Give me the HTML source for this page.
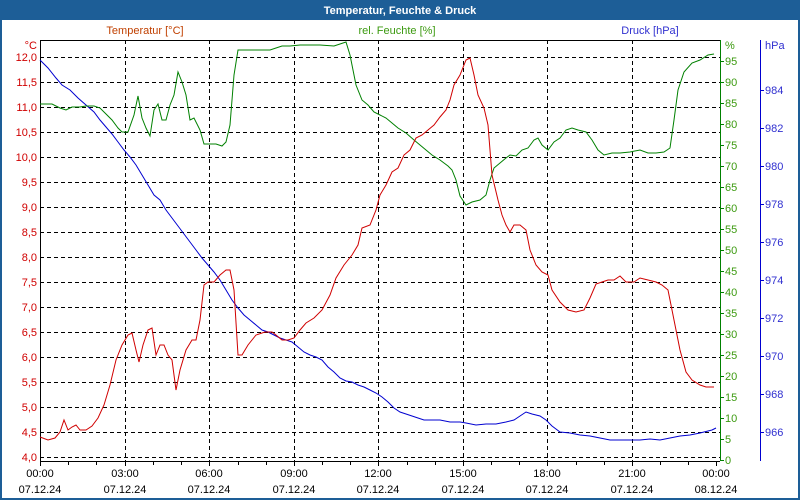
<!DOCTYPE html>
<html><head><meta charset="utf-8"><style>
html,body{margin:0;padding:0;background:#fff}
svg{display:block;font-family:"Liberation Sans",sans-serif;font-size:11px}
</style></head><body>
<svg width="800" height="500" viewBox="0 0 800 500">
<rect x="0" y="0" width="800" height="500" fill="#1d5e97"/>
<rect x="2" y="20" width="796" height="478" fill="#fff"/>
<text x="400" y="14" fill="#fff" font-weight="bold" text-anchor="middle">Temperatur, Feuchte &amp; Druck</text>
<g stroke="#000" stroke-dasharray="4,3" stroke-width="1">
<path d="M40 57.5H720M40 82.5H720M40 107.5H720M40 132.5H720M40 157.5H720M40 182.5H720M40 207.5H720M40 232.5H720M40 257.5H720M40 282.5H720M40 307.5H720M40 332.5H720M40 357.5H720M40 382.5H720M40 407.5H720M40 432.5H720M40 457.5H720"/>
<path d="M125.5 40V461M209.5 40V461M294.5 40V461M378.5 40V461M463.5 40V461M547.5 40V461M632.5 40V461"/>
</g>
<path d="M40.5 40.5H720M40.5 40V461.5H720" stroke="#000" fill="none"/>
<g stroke="#000">
<path id="tk" d="M40.5 461V466M68.5 461V465M96.5 461V465M125.5 461V466M153.5 461V465M181.5 461V465M209.5 461V466M238.5 461V465M266.5 461V465M294.5 461V466M322.5 461V465M350.5 461V465M378.5 461V466M407.5 461V465M435.5 461V465M463.5 461V466M491.5 461V465M519.5 461V465M547.5 461V466M576.5 461V465M604.5 461V465M632.5 461V466M660.5 461V465M688.5 461V465M716.5 461V466"/>
</g>
<path d="M720.5 40V461" stroke="#008000"/>
<g stroke="#008000">
<path d="M720 460.5h4M720 439.5h4M720 418.5h4M720 397.5h4M720 376.5h4M720 355.5h4M720 334.5h4M720 313.5h4M720 292.5h4M720 271.5h4M720 250.5h4M720 229.5h4M720 208.5h4M720 187.5h4M720 166.5h4M720 145.5h4M720 124.5h4M720 103.5h4M720 82.5h4M720 61.5h4"/>
</g>
<path d="M760.5 40V461" stroke="#0000d0"/>
<g stroke="#0000d0"><path d="M760 90.5h4M760 128.5h4M760 166.5h4M760 204.5h4M760 242.5h4M760 280.5h4M760 318.5h4M760 356.5h4M760 394.5h4M760 432.5h4"/></g>
<g fill="#d00000" text-anchor="end">
<text x="37" y="49">°C</text>
<text x="37" y="61">12,0</text><text x="37" y="86">11,5</text><text x="37" y="111">11,0</text><text x="37" y="136">10,5</text><text x="37" y="161">10,0</text><text x="37" y="186">9,5</text><text x="37" y="211">9,0</text><text x="37" y="236">8,5</text><text x="37" y="261">8,0</text><text x="37" y="286">7,5</text><text x="37" y="311">7,0</text><text x="37" y="336">6,5</text><text x="37" y="361">6,0</text><text x="37" y="386">5,5</text><text x="37" y="411">5,0</text><text x="37" y="436">4,5</text><text x="37" y="461">4,0</text>
</g>
<g fill="#3c9a10">
<text x="725" y="49">%</text>
<text x="725" y="65">95</text><text x="725" y="86">90</text><text x="725" y="107">85</text><text x="725" y="128">80</text><text x="725" y="149">75</text><text x="725" y="170">70</text><text x="725" y="191">65</text><text x="725" y="212">60</text><text x="725" y="233">55</text><text x="725" y="254">50</text><text x="725" y="275">45</text><text x="725" y="296">40</text><text x="725" y="317">35</text><text x="725" y="338">30</text><text x="725" y="359">25</text><text x="725" y="380">20</text><text x="725" y="401">15</text><text x="725" y="422">10</text><text x="725" y="443">5</text><text x="725" y="464">0</text>
</g>
<g fill="#3030d0">
<text x="765" y="49">hPa</text>
<text x="765" y="94">984</text><text x="765" y="132">982</text><text x="765" y="170">980</text><text x="765" y="208">978</text><text x="765" y="246">976</text><text x="765" y="284">974</text><text x="765" y="322">972</text><text x="765" y="360">970</text><text x="765" y="398">968</text><text x="765" y="436">966</text>
</g>
<text x="145" y="34" fill="#c04000" text-anchor="middle">Temperatur [°C]</text>
<text x="397" y="34" fill="#3c9a10" text-anchor="middle">rel. Feuchte [%]</text>
<text x="650" y="34" fill="#3030d0" text-anchor="middle">Druck [hPa]</text>
<g fill="#000" text-anchor="middle">
<text x="40" y="477">00:00</text><text x="125" y="477">03:00</text><text x="209" y="477">06:00</text><text x="294" y="477">09:00</text><text x="378" y="477">12:00</text><text x="463" y="477">15:00</text><text x="547" y="477">18:00</text><text x="632" y="477">21:00</text><text x="716" y="477">00:00</text>
<text x="40" y="493">07.12.24</text><text x="125" y="493">07.12.24</text><text x="209" y="493">07.12.24</text><text x="294" y="493">07.12.24</text><text x="378" y="493">07.12.24</text><text x="463" y="493">07.12.24</text><text x="547" y="493">07.12.24</text><text x="632" y="493">07.12.24</text><text x="716" y="493">08.12.24</text>
</g>
<polyline fill="none" stroke="#0000d0" stroke-width="1" points="40,60 48,68 56,78 62,85 70,90 78,98 86,105 94,112 100,120 106,127 112,134 118,142 124,150 130,157 136,165 142,175 148,185 154,195 160,200 166,210 172,218 178,226 184,234 190,242 196,250 202,258 208,265 214,272 220,280 226,290 232,300 238,308 244,315 250,320 256,325 262,330 268,332 274,335 280,338 286,340 292,342 298,347 304,352 310,355 316,357 322,360 328,367 334,372 340,378 346,381 352,382 358,385 364,387 370,390 376,393 382,397 388,402 394,408 400,412 406,414 412,416 418,418 424,420 430,420 440,420 450,422 460,422 466,423 476,425 486,424 496,424 506,422 514,420 520,416 526,412 532,414 540,416 546,420 552,426 560,432 570,433 580,435 590,436 600,438 610,440 620,440 630,440 640,440 650,439 660,440 670,438 680,436 690,435 700,433 712,430 716,428"/>
<polyline fill="none" stroke="#008000" stroke-width="1" points="40,104 52,104 60,108 66,110 72,107 80,107 86,106 94,106 100,108 106,114 112,120 118,128 122,132 128,132 134,115 138,96 142,118 146,128 150,136 154,110 158,104 162,120 166,120 170,105 174,95 178,72 182,82 186,95 190,120 194,118 200,130 204,144 210,144 216,144 222,146 226,142 230,125 234,75 238,50 244,50 250,50 260,50 270,50 276,48 282,46 290,46 300,45 320,45 334,46 340,44 346,42 350,55 356,85 362,100 368,105 374,112 380,115 386,118 392,123 398,128 406,133 414,140 420,145 426,150 432,155 440,160 448,166 452,170 456,180 460,196 466,205 472,202 480,200 486,195 490,180 494,168 500,163 506,158 510,155 516,156 522,150 528,148 534,140 538,138 542,145 548,150 554,142 560,138 566,130 572,128 578,130 586,132 592,140 598,150 604,155 612,153 620,153 630,152 640,150 648,153 656,153 664,152 670,148 674,120 678,90 684,72 692,63 700,60 708,55 714,54"/>
<polyline fill="none" stroke="#d00000" stroke-width="1" points="40,437 48,440 55,438 60,432 64,420 68,430 72,427 76,425 80,430 86,430 92,426 98,418 104,405 110,385 116,360 122,345 128,335 132,333 136,350 139,362 143,345 148,330 152,328 156,355 160,345 164,345 168,355 172,360 176,390 180,370 186,350 192,340 196,340 200,320 204,285 208,282 214,282 220,275 226,270 230,270 234,290 238,355 242,355 248,345 256,335 265,332 272,332 276,335 282,340 288,340 294,338 300,330 306,323 314,318 322,310 330,295 336,278 344,265 352,255 358,245 362,228 370,225 376,210 380,195 386,185 392,172 398,168 404,155 410,150 416,138 422,135 428,130 434,125 440,117 446,110 450,100 454,85 460,75 466,60 470,58 474,75 478,95 484,108 488,125 492,175 498,200 502,215 506,225 510,232 514,225 520,225 526,230 530,250 536,265 542,272 548,275 552,290 560,302 568,310 576,312 584,310 590,298 596,284 602,282 608,280 614,280 620,276 626,282 634,282 640,278 648,280 656,282 662,285 668,290 674,320 680,350 686,372 692,380 700,385 706,387 714,387"/>
</svg>
</body></html>
